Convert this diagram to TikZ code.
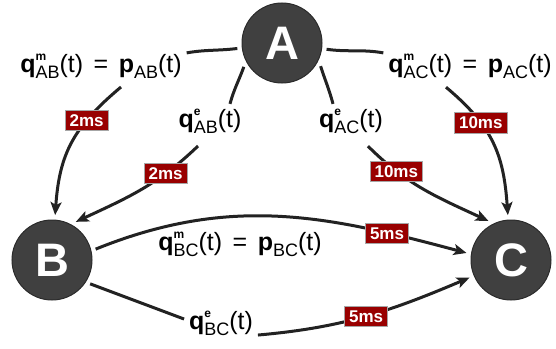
\documentclass[tikz,border=0pt]{standalone}
\usepackage{fontspec}
\setmainfont{Liberation Sans}
\usetikzlibrary{arrows.meta}
\definecolor{circfill}{HTML}{404040}
\definecolor{circline}{HTML}{2B2B2B}
\definecolor{dlyfill}{HTML}{990000}
\definecolor{edgecol}{HTML}{222222}
\newcommand{\qlab}[3]{\textbf{#1}\makebox[0pt][l]{\raisebox{11.5pt}{\fontsize{12}{12}\selectfont\bfseries #2}}\raisebox{-6pt}{\fontsize{18}{18}\selectfont #3}(t)}
\newcommand{\plab}[2]{\textbf{#1}\raisebox{-6pt}{\fontsize{18}{18}\selectfont #2}(t)}
\newcommand{\eqsp}{\hspace{0.42em}=\hspace{0.42em}}
\begin{document}
\begin{tikzpicture}[x=1pt,y=-1pt,
  nodecirc/.style={circle, minimum size=80pt, inner sep=0pt, outer sep=5pt, fill=circfill, draw=circline, line width=1pt, text=white, font=\fontsize{47}{47}\selectfont\bfseries},
  qlabel/.style={inner sep=2pt, outer sep=3pt, font=\fontsize{25}{25}\selectfont, anchor=base},
  dly/.style={fill=dlyfill, draw=gray!70, line width=0.6pt, text=white, font=\fontsize{17}{17}\selectfont\bfseries, inner xsep=4.5pt, inner ysep=4pt, text height=12.2pt, text depth=0pt},
  edge/.style={draw=edgecol, line width=3pt},
  arr/.style={edge, -{Stealth[length=13pt,width=11pt,inset=3pt]}}
]
\fill[white] (0,0) rectangle (556,348);
\useasboundingbox (0,0) rectangle (556,348);

\node[nodecirc] (A) at (282,43) {A};
\node[nodecirc] (B) at (52,260) {B};
\node[nodecirc] (C) at (511,260) {C};

\node[qlabel] (lABm) at (101,72) {\qlab{q}{m}{AB}\eqsp\plab{p}{AB}};
\node[qlabel] (lABe) at (210,127) {\qlab{q}{e}{AB}};
\node[qlabel] (lACm) at (470,72) {\qlab{q}{m}{AC}\eqsp\plab{p}{AC}};
\node[qlabel] (lACe) at (351,127) {\qlab{q}{e}{AC}};
\node[qlabel] (lBCm) at (240,250) {\qlab{q}{m}{BC}\eqsp\plab{p}{BC}};
\node[qlabel] (lBCe) at (221,329) {\qlab{q}{e}{BC}};

% A -> B, measured
\draw[edge] (A) to[out=187,in=10] ([yshift=-4pt]lABm.north east);
\draw[arr] ([xshift=20pt,yshift=-4pt]lABm.south) to[out=-140,in=86,looseness=1.1] node[dly,pos=0.3]{2ms} (B);
% A -> B, estimated
\draw[edge] (A.212) to[out=250,in=75] ([xshift=20pt]lABe.north);
\draw[arr] ([xshift=-12pt,yshift=-8pt]lABe.south) to[out=-136,in=25] node[dly,pos=0.28]{2ms} (B.58);
% A -> C, measured
\draw[edge] (A) to[out=-8,in=170] ([yshift=-4pt]lACm.north west);
\draw[arr] ([xshift=-24pt,yshift=-4pt]lACm.south) to[out=-40,in=94,looseness=1.1] node[dly,pos=0.32]{10ms} (C);
% A -> C, estimated
\draw[edge] (A.-31) to[out=-72,in=105] ([xshift=-18pt]lACe.north);
\draw[arr] ([xshift=17pt,yshift=-8pt]lACe.south) to[out=-45,in=155] node[dly,pos=0.25]{10ms} (C.120);
% B -> C, measured
\draw[arr] (B.14) to[out=22,in=165] node[dly,pos=0.8]{5ms} (C.171);
% B -> C, estimated
\draw[edge] (B.-32) -- ([yshift=4pt]lBCe.west);
\draw[arr] (lBCe.-18) to[out=5,in=203] node[dly,pos=0.5]{5ms} (C.203);
\end{tikzpicture}
\end{document}
